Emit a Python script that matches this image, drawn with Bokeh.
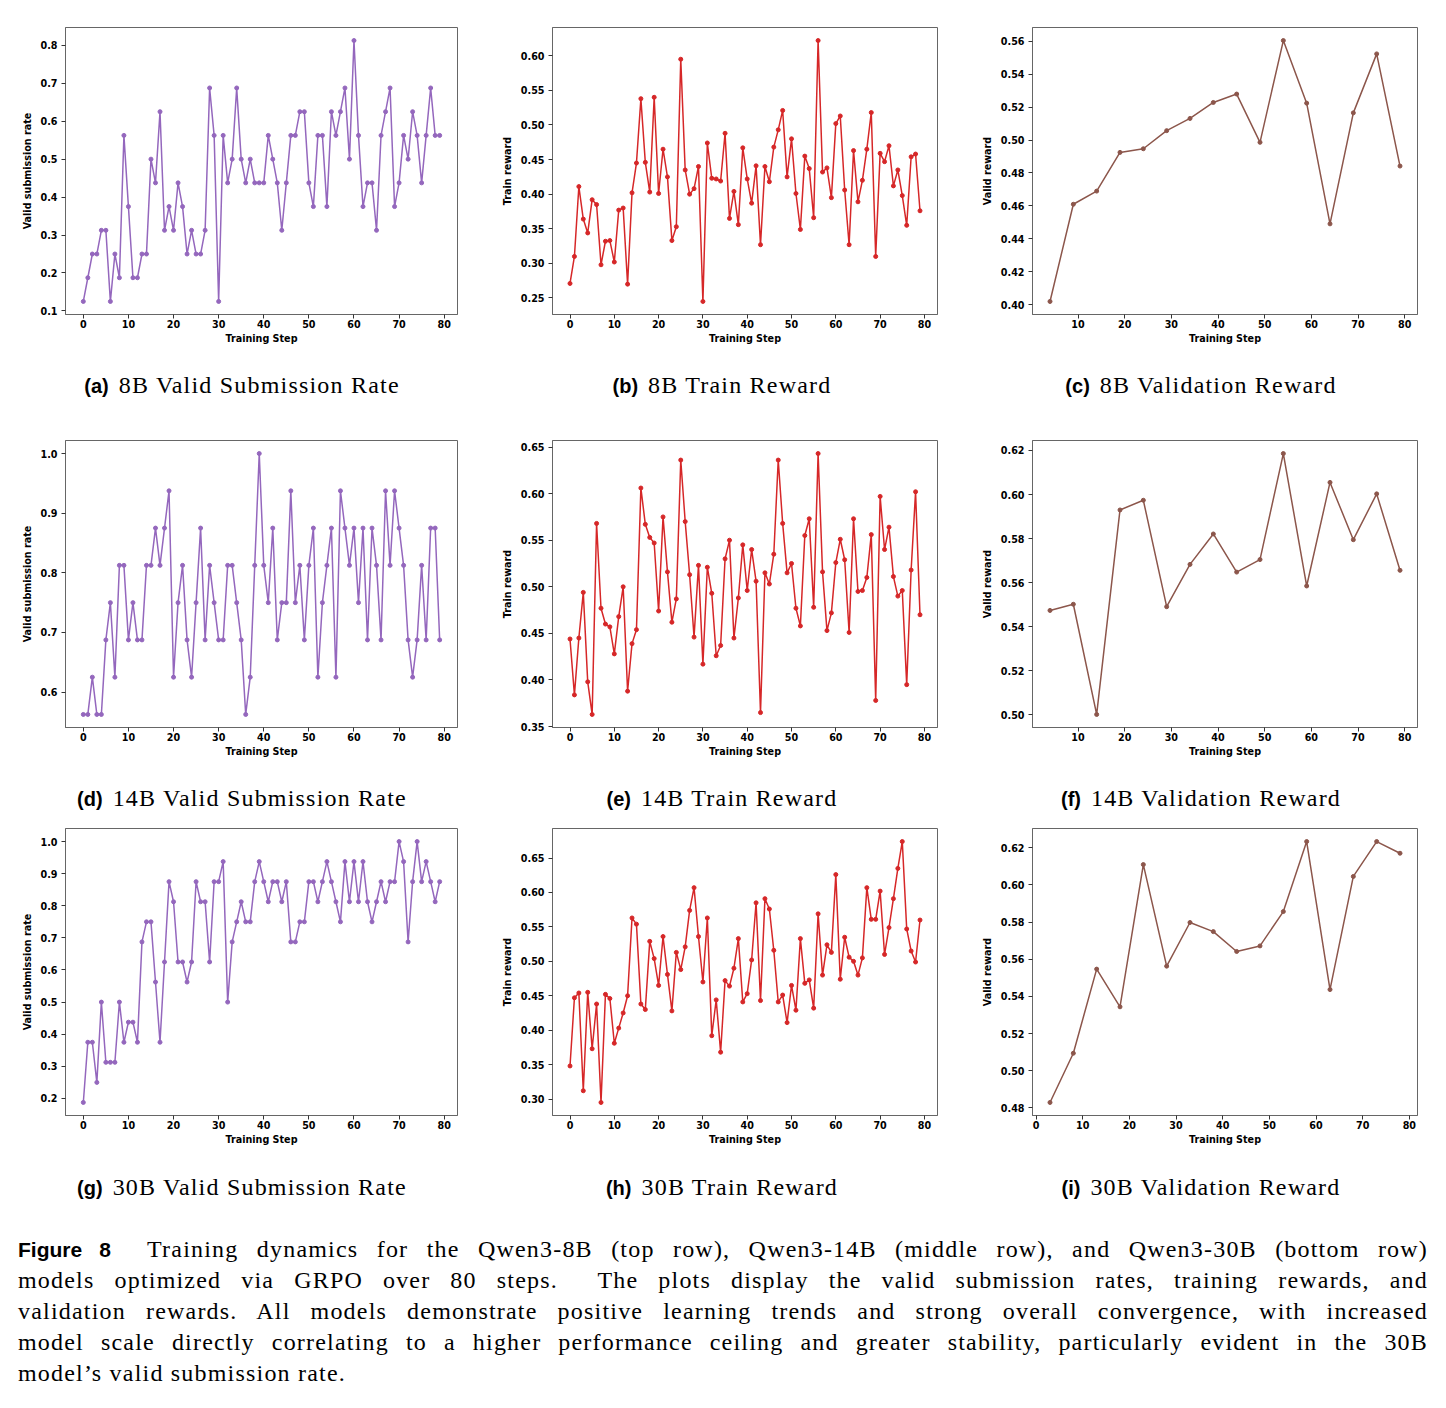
from bokeh.plotting import figure
from bokeh.models import FixedTicker, PrintfTickFormatter, Div, Range1d
from bokeh.layouts import column, row
from bokeh.embed import file_html
from bokeh.resources import INLINE

# ---------------- data ----------------
train_steps = list(range(80))
val_steps_8b_14b = [4, 9, 14, 19, 24, 29, 34, 39, 44, 49, 54, 59, 64, 69, 74, 79]
val_steps_30b = [3, 8, 13, 18, 23, 28, 33, 38, 43, 48, 53, 58, 63, 68, 73, 78]

valid_rate_8b = [0.125, 0.1875, 0.25, 0.25, 0.3125, 0.3125, 0.125, 0.25, 0.1875, 0.5625,
                 0.375, 0.1875, 0.1875, 0.25, 0.25, 0.5, 0.4375, 0.625, 0.3125, 0.375,
                 0.3125, 0.4375, 0.375, 0.25, 0.3125, 0.25, 0.25, 0.3125, 0.6875, 0.5625,
                 0.125, 0.5625, 0.4375, 0.5, 0.6875, 0.5, 0.4375, 0.5, 0.4375, 0.4375,
                 0.4375, 0.5625, 0.5, 0.4375, 0.3125, 0.4375, 0.5625, 0.5625, 0.625, 0.625,
                 0.4375, 0.375, 0.5625, 0.5625, 0.375, 0.625, 0.5625, 0.625, 0.6875, 0.5,
                 0.8125, 0.5625, 0.375, 0.4375, 0.4375, 0.3125, 0.5625, 0.625, 0.6875, 0.375,
                 0.4375, 0.5625, 0.5, 0.625, 0.5625, 0.4375, 0.5625, 0.6875, 0.5625, 0.5625]

train_reward_8b = [0.271, 0.310, 0.411, 0.364, 0.344, 0.392, 0.385, 0.298, 0.332, 0.333,
                   0.302, 0.377, 0.380, 0.270, 0.402, 0.445, 0.538, 0.446, 0.403, 0.540,
                   0.401, 0.465, 0.425, 0.333, 0.353, 0.595, 0.435, 0.400, 0.408, 0.440,
                   0.245, 0.474, 0.423, 0.422, 0.419, 0.488, 0.365, 0.404, 0.356, 0.467,
                   0.422, 0.387, 0.441, 0.327, 0.440, 0.418, 0.468, 0.493, 0.521, 0.425,
                   0.480, 0.401, 0.349, 0.455, 0.437, 0.366, 0.622, 0.432, 0.438, 0.395,
                   0.502, 0.513, 0.406, 0.327, 0.463, 0.389, 0.420, 0.465, 0.518, 0.310,
                   0.459, 0.447, 0.470, 0.412, 0.435, 0.398, 0.355, 0.454, 0.458, 0.376]

valid_reward_8b = [0.402, 0.461, 0.469, 0.4925, 0.4947, 0.5057, 0.5131, 0.5228, 0.5279, 0.4986,
                   0.5604, 0.5224, 0.4491, 0.5165, 0.5523, 0.4842]

valid_rate_14b = [0.5625, 0.5625, 0.625, 0.5625, 0.5625, 0.6875, 0.75, 0.625, 0.8125, 0.8125,
                  0.6875, 0.75, 0.6875, 0.6875, 0.8125, 0.8125, 0.875, 0.8125, 0.875, 0.9375,
                  0.625, 0.75, 0.8125, 0.6875, 0.625, 0.75, 0.875, 0.6875, 0.8125, 0.75,
                  0.6875, 0.6875, 0.8125, 0.8125, 0.75, 0.6875, 0.5625, 0.625, 0.8125, 1.0,
                  0.8125, 0.75, 0.875, 0.6875, 0.75, 0.75, 0.9375, 0.75, 0.8125, 0.6875,
                  0.8125, 0.875, 0.625, 0.75, 0.8125, 0.875, 0.625, 0.9375, 0.875, 0.8125,
                  0.875, 0.75, 0.875, 0.6875, 0.875, 0.8125, 0.6875, 0.9375, 0.8125, 0.9375,
                  0.875, 0.8125, 0.6875, 0.625, 0.6875, 0.8125, 0.6875, 0.875, 0.875, 0.6875]

train_reward_14b = [0.444, 0.384, 0.445, 0.494, 0.398, 0.363, 0.568, 0.477, 0.460, 0.457,
                    0.428, 0.468, 0.500, 0.388, 0.439, 0.454, 0.606, 0.567, 0.553, 0.547,
                    0.474, 0.575, 0.516, 0.462, 0.487, 0.636, 0.570, 0.513, 0.446, 0.523,
                    0.417, 0.521, 0.493, 0.426, 0.437, 0.530, 0.550, 0.445, 0.488, 0.545,
                    0.496, 0.540, 0.506, 0.365, 0.515, 0.503, 0.535, 0.636, 0.568, 0.515,
                    0.525, 0.477, 0.458, 0.555, 0.573, 0.478, 0.643, 0.516, 0.453, 0.472,
                    0.526, 0.551, 0.529, 0.451, 0.573, 0.495, 0.496, 0.510, 0.556, 0.378,
                    0.597, 0.540, 0.564, 0.511, 0.490, 0.496, 0.395, 0.518, 0.602, 0.470]

valid_reward_14b = [0.5474, 0.5502, 0.5002, 0.593, 0.5974, 0.5491, 0.5683, 0.5821, 0.5648, 0.5705,
                    0.6186, 0.5585, 0.6055, 0.5795, 0.6003, 0.5656]

valid_rate_30b = [0.1875, 0.375, 0.375, 0.25, 0.5, 0.3125, 0.3125, 0.3125, 0.5, 0.375,
                  0.4375, 0.4375, 0.375, 0.6875, 0.75, 0.75, 0.5625, 0.375, 0.625, 0.875,
                  0.8125, 0.625, 0.625, 0.5625, 0.625, 0.875, 0.8125, 0.8125, 0.625, 0.875,
                  0.875, 0.9375, 0.5, 0.6875, 0.75, 0.8125, 0.75, 0.75, 0.875, 0.9375,
                  0.875, 0.8125, 0.875, 0.875, 0.8125, 0.875, 0.6875, 0.6875, 0.75, 0.75,
                  0.875, 0.875, 0.8125, 0.875, 0.9375, 0.875, 0.8125, 0.75, 0.9375, 0.8125,
                  0.9375, 0.8125, 0.9375, 0.8125, 0.75, 0.8125, 0.875, 0.8125, 0.875, 0.875,
                  1.0, 0.9375, 0.6875, 0.875, 1.0, 0.875, 0.9375, 0.875, 0.8125, 0.875]

train_reward_30b = [0.348, 0.447, 0.454, 0.312, 0.455, 0.373, 0.438, 0.295, 0.452, 0.446,
                    0.381, 0.403, 0.425, 0.450, 0.563, 0.554, 0.438, 0.430, 0.529, 0.504,
                    0.465, 0.536, 0.481, 0.428, 0.513, 0.488, 0.521, 0.574, 0.607, 0.536,
                    0.470, 0.563, 0.392, 0.444, 0.368, 0.472, 0.464, 0.490, 0.533, 0.441,
                    0.453, 0.502, 0.585, 0.443, 0.591, 0.576, 0.516, 0.441, 0.451, 0.411,
                    0.465, 0.429, 0.533, 0.468, 0.473, 0.432, 0.569, 0.480, 0.524, 0.513,
                    0.626, 0.474, 0.535, 0.506, 0.500, 0.480, 0.505, 0.607, 0.561, 0.561,
                    0.602, 0.510, 0.549, 0.591, 0.635, 0.674, 0.547, 0.515, 0.499, 0.560]

valid_reward_30b = [0.4829, 0.5094, 0.5547, 0.5344, 0.6110, 0.5563, 0.5798, 0.5749, 0.5642, 0.5672,
                    0.5857, 0.6234, 0.5437, 0.6046, 0.6234, 0.6171]

x_ticks = [0, 10, 20, 30, 40, 50, 60, 70, 80]
yticks_a = [0.1, 0.2, 0.3, 0.4, 0.5, 0.6, 0.7, 0.8]
yticks_b = [0.25, 0.30, 0.35, 0.40, 0.45, 0.50, 0.55, 0.60]
yticks_c = [0.40, 0.42, 0.44, 0.46, 0.48, 0.50, 0.52, 0.54, 0.56]
yticks_d = [0.6, 0.7, 0.8, 0.9, 1.0]
yticks_e = [0.35, 0.40, 0.45, 0.50, 0.55, 0.60, 0.65]
yticks_f = [0.50, 0.52, 0.54, 0.56, 0.58, 0.60, 0.62]
yticks_g = [0.2, 0.3, 0.4, 0.5, 0.6, 0.7, 0.8, 0.9, 1.0]
yticks_h = [0.30, 0.35, 0.40, 0.45, 0.50, 0.55, 0.60, 0.65]
yticks_i = [0.48, 0.50, 0.52, 0.54, 0.56, 0.58, 0.60, 0.62]

PURPLE = "#9467bd"
RED = "#d62728"
BROWN = "#8c564b"

FONT = "DejaVu Sans"


def pad_range(vals):
    lo, hi = min(vals), max(vals)
    m = 0.05 * (hi - lo)
    return Range1d(lo - m, hi + m)


def make_fig(xs, ys, color, ylabel, yticks, yfmt, frame_w, border_left, border_top):
    p = figure(frame_width=frame_w, frame_height=287, output_backend="svg",
               toolbar_location=None, title=None,
               x_range=pad_range(xs), y_range=pad_range(ys),
               min_border_left=border_left, min_border_right=10,
               min_border_top=border_top, min_border_bottom=40,
               background_fill_color="white", border_fill_color="white")
    p.xgrid.visible = False
    p.ygrid.visible = False
    p.outline_line_color = "#666666"
    p.outline_line_width = 1
    p.xaxis.ticker = FixedTicker(ticks=x_ticks)
    p.yaxis.ticker = FixedTicker(ticks=yticks)
    p.yaxis.formatter = PrintfTickFormatter(format=yfmt)
    p.xaxis.axis_label = "Training Step"
    p.yaxis.axis_label = ylabel
    for ax in (p.xaxis[0], p.yaxis[0]):
        ax.major_label_text_font = FONT
        ax.major_label_text_font_style = "bold"
        ax.major_label_text_font_size = "9.6px"
        ax.major_label_text_color = "black"
        ax.axis_label_text_font = FONT
        ax.axis_label_text_font_style = "bold"
        ax.axis_label_text_font_size = "9.6px"
        ax.axis_label_text_color = "black"
        ax.minor_tick_line_color = None
        ax.major_tick_out = 4
        ax.major_tick_in = 0
        ax.major_tick_line_color = "#333333"
        ax.axis_line_color = "#666666"
    p.xaxis.major_label_standoff = 1
    p.xaxis.axis_label_standoff = 2
    p.yaxis.major_label_standoff = 4
    p.yaxis.axis_label_standoff = 5
    p.line(xs, ys, line_color=color, line_width=1.5)
    p.scatter(xs, ys, size=4, fill_color=color, line_color=color)
    return p


rows_spec = [
    (valid_rate_8b, train_reward_8b, valid_reward_8b, val_steps_8b_14b,
     (yticks_a, yticks_b, yticks_c), 27),
    (valid_rate_14b, train_reward_14b, valid_reward_14b, val_steps_8b_14b,
     (yticks_d, yticks_e, yticks_f), 10),
    (valid_rate_30b, train_reward_30b, valid_reward_30b, val_steps_30b,
     (yticks_g, yticks_h, yticks_i), 10),
]

fig_rows = []
for vr, tr, vw, vsteps, (t1, t2, t3), top in rows_spec:
    f1 = make_fig(train_steps, vr, PURPLE, "Valid submission rate", t1, "%.1f", 392, 65, top)
    f2 = make_fig(train_steps, tr, RED, "Train reward", t2, "%.2f", 385, 85, top)
    f3 = make_fig(vsteps, vw, BROWN, "Valid reward", t3, "%.2f", 385, 85, top)
    fig_rows.append(row(f1, f2, f3, spacing=0))

captions = [
    [("(a)", "8B Valid Submission Rate"), ("(b)", "8B Train Reward"), ("(c)", "8B Validation Reward")],
    [("(d)", "14B Valid Submission Rate"), ("(e)", "14B Train Reward"), ("(f)", "14B Validation Reward")],
    [("(g)", "30B Valid Submission Rate"), ("(h)", "30B Train Reward"), ("(i)", "30B Validation Reward")],
]
caption_centers = [242, 722, 1201]

SANS_B = "font-family:'Liberation Sans';font-weight:bold;font-size:20px;letter-spacing:0px;"
SERIF = "font-family:'Liberation Serif';font-size:24px;letter-spacing:1.2px;"


def caption_html(items, top):
    out = ""
    for (lab, txt), cx in zip(items, caption_centers):
        out += (f'<div style="position:absolute;left:{cx}px;top:{top}px;transform:translateX(-50%);'
                f'white-space:nowrap;line-height:26px;color:black;">'
                f'<span style="{SANS_B}">{lab}</span>'
                f'<span style="{SERIF}margin-left:10px;">{txt}</span></div>')
    return out


def caption_div(inner, height):
    return Div(text=f'<div style="position:relative;width:1446px;height:{height}px;">{inner}</div>',
               width=1446, height=height, margin=0)


fig_lines = [
    f'<span style="{SANS_B}font-size:21px;">Figure&nbsp;8</span>&nbsp; Training dynamics for the Qwen3-8B (top row), Qwen3-14B (middle row), and Qwen3-30B (bottom row)',
    'models optimized via GRPO over 80 steps.&nbsp; The plots display the valid submission rates, training rewards, and',
    'validation rewards. All models demonstrate positive learning trends and strong overall convergence, with increased',
    'model scale directly correlating to a higher performance ceiling and greater stability, particularly evident in the 30B',
    'model\u2019s valid submission rate.',
]
para = ""
for i, ln in enumerate(fig_lines):
    last = i == len(fig_lines) - 1
    if last:
        para += f'<div style="text-align:left;white-space:nowrap;">{ln}</div>'
    else:
        para += f'<div style="text-align:justify;text-align-last:justify;white-space:nowrap;">{ln}</div>'
fig_caption = (f'<div style="position:absolute;left:18px;top:79px;width:1410px;{SERIF}'
               f'line-height:31px;color:black;">{para}</div>')

div1 = caption_div(caption_html(captions[0], 18), 76)
div2 = caption_div(caption_html(captions[1], 18), 51)
div3 = caption_div(caption_html(captions[2], 19) + fig_caption, 253)

layout = column(fig_rows[0], div1, fig_rows[1], div2, fig_rows[2], div3, spacing=0)

open("out.html", "w").write(file_html(layout, INLINE))
